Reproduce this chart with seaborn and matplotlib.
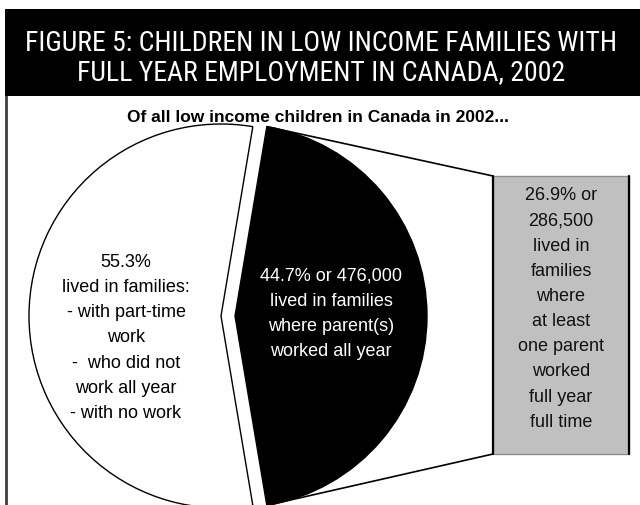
import matplotlib
matplotlib.use("Agg")
import matplotlib.pyplot as plt
from matplotlib import font_manager
from matplotlib.patches import Rectangle
from matplotlib.lines import Line2D
import numpy as np
import seaborn as sns

# Low income children in Canada, 2002
segments = ["Other low income families", "Parent(s) worked all year"]
shares = [55.3, 44.7]
worked_all_year_count = "476,000"
full_year_full_time_share = 26.9
full_year_full_time_count = "286,500"

title_lines = ["FIGURE 5: CHILDREN IN LOW INCOME FAMILIES WITH",
               "FULL YEAR EMPLOYMENT IN CANADA, 2002"]
subtitle = "Of all low income children in Canada in 2002..."

sns.set_theme(style="white")
plt.rcParams["font.family"] = ["Liberation Sans", "DejaVu Sans"]

# narrow face for the heading, if one is installed
names = {f.name for f in font_manager.fontManager.ttflist}
stretches = {(f.name, f.stretch) for f in font_manager.fontManager.ttflist}
title_font = dict(family=["Liberation Sans"], fontsize=16.5)
for cand in ["Liberation Sans Narrow", "Arial Narrow", "Roboto Condensed",
             "Open Sans Condensed", "DejaVu Sans Condensed", "Noto Sans Condensed"]:
    if cand in names:
        title_font = dict(family=[cand], fontsize=20)
        break
else:
    for nm in ["Roboto", "Noto Sans", "Open Sans", "DejaVu Sans"]:
        if (nm, "condensed") in stretches or (nm, "semi-condensed") in stretches:
            title_font = dict(family=[nm], fontstretch="condensed", fontsize=20)
            break

W, H = 640, 506
fig = plt.figure(figsize=(W / 100, H / 100), dpi=100)
fig.patch.set_facecolor("white")
ax = fig.add_axes([0, 0, 1, 1])

# pie geometry in pixel terms
R = 192.0
CX, CY = 221.0, 317.0


def P(x, y):
    """pixel position -> data coordinates of the pie axes"""
    return (x - CX) / R, (CY - y) / R


start = 180.0 * shares[1] / sum(shares)
wedges, _ = ax.pie(shares, colors=["white", "black"], startangle=start,
                   counterclock=True, explode=[0, 14 / R], radius=1,
                   center=(0, 0), frame=True,
                   wedgeprops=dict(edgecolor="black", linewidth=1.0))

ax.set_xlim(-CX / R, (W - CX) / R)
ax.set_ylim((CY - H) / R, CY / R)
ax.set_aspect("auto")
ax.axis("off")

# title bar
x0, y0 = P(5, 97)
x1, y1 = P(641, 10)
ax.add_patch(Rectangle((x0, y0), x1 - x0, y1 - y0, facecolor="black",
                       edgecolor="none", zorder=5, clip_on=False))
for line, ypx in zip(title_lines, [43, 73]):
    ax.text(*P(321, ypx), line, color="white", ha="center", va="center",
            zorder=6, **title_font)

# left frame line
ax.add_line(Line2D(*zip(P(6, 97), P(6, 507)), color="#404040", lw=2))

ax.text(*P(318, 117), subtitle, ha="center", va="center", fontsize=12.5,
        fontweight="bold", color="black")

# box for the full-year full-time share
bx0, by0 = P(493, 455)
bx1, by1 = P(629, 177)
ax.add_patch(Rectangle((bx0, by0), bx1 - bx0, by1 - by0, facecolor="#c0c0c0",
                       edgecolor="#8c8c8c", lw=1, zorder=3))
for bx in (bx0, bx1):
    ax.add_line(Line2D([bx, bx], [by0, by1], color="black", lw=1.6, zorder=4))

# connectors from the exploded wedge to the box
w = wedges[1]
cx, cy = w.center
top = (cx + np.cos(np.radians(w.theta2)), cy + np.sin(np.radians(w.theta2)))
bot = (cx + np.cos(np.radians(w.theta1)), cy + np.sin(np.radians(w.theta1)))
ax.add_line(Line2D([top[0], bx0], [top[1], by1], color="black", lw=1.2, zorder=2))
ax.add_line(Line2D([bot[0], bx0], [bot[1], by0], color="black", lw=1.2, zorder=2))

body = dict(ha="center", va="center", fontsize=13, linespacing=1.63)
ax.text(*P(126, 338),
        f"{shares[0]}%\nlived in families:\n- with part-time\nwork\n-  who did not\nwork all year\n- with no work",
        color="black", **body)
ax.text(*P(331, 314),
        f"{shares[1]}% or {worked_all_year_count}\nlived in families\nwhere parent(s)\nworked all year",
        color="white", **body)
ax.text(*P(561, 309),
        f"{full_year_full_time_share}% or\n{full_year_full_time_count}\nlived in\nfamilies\nwhere\nat least\none parent\nworked\nfull year\nfull time",
        color="#111111", zorder=5, **body)

fig.savefig("out.png", dpi=100, facecolor="white")
